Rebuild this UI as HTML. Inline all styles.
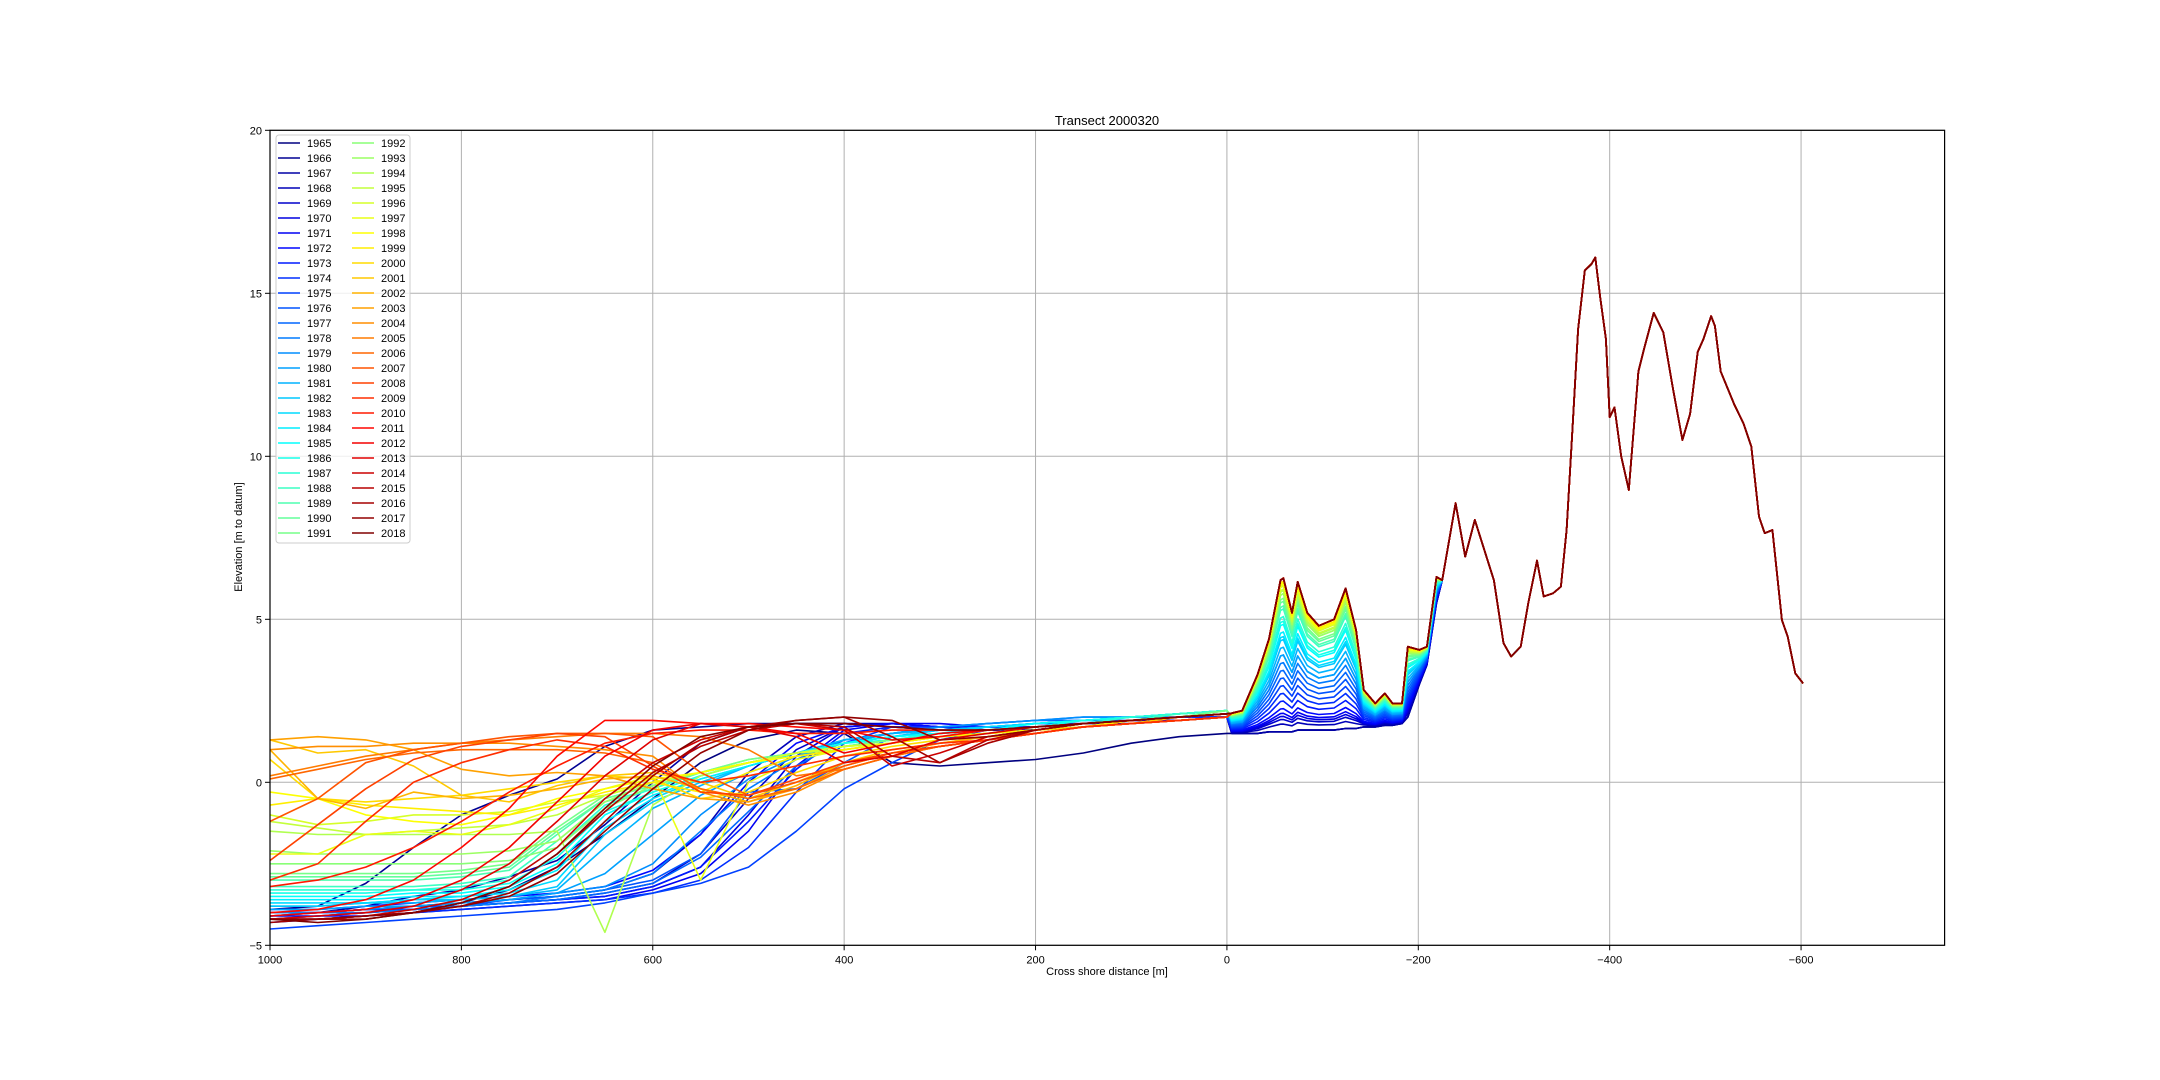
<!DOCTYPE html>
<html><head><meta charset="utf-8"><style>
html,body{margin:0;padding:0;background:#fff}
svg{display:block;font-family:"Liberation Sans","DejaVu Sans",sans-serif}
</style></head><body>
<svg id="chart" width="2160" height="1080" viewBox="0 0 2160 1080">
<defs><clipPath id="plotclip"><rect x="270" y="130" width="1675" height="815"/></clipPath></defs>
<rect x="0" y="0" width="2160" height="1080" fill="#fff"/>
<g id="grid"></g>
<g id="series" clip-path="url(#plotclip)"></g>
<rect x="270" y="130.3" width="1674.6" height="815" fill="none" stroke="#000" stroke-width="1.2"/>
<g id="ticks"></g>
<text x="1107" y="125" text-anchor="middle" font-size="13">Transect 2000320</text>
<text x="1107" y="975" text-anchor="middle" font-size="11">Cross shore distance [m]</text>
<text x="0" y="0" transform="translate(242,537) rotate(-90)" text-anchor="middle" font-size="11">Elevation [m to datum]</text>
<g id="legend"></g>
</svg>
<script>
const years = [];
for (let y = 1965; y <= 2018; y++) years.push(y);
const xTicks = [1000, 800, 600, 400, 200, 0, -200, -400, -600];
const yTicks = [-5, 0, 5, 10, 15, 20];
const seaX = [1000,950,900,850,800,750,700,650,600,550,500,450,400,350,300,250,200,150,100,50,0];
const seaY = [
[-4.2,-4.2,-4.1,-4.0,-3.7,-3.3,-2.6,-1.6,-0.5,0.6,1.3,1.6,1.5,0.6,0.5,0.6,0.7,0.9,1.2,1.4,1.5],
[-3.9,-3.8,-3.1,-2.0,-1.0,-0.4,0.1,1.1,1.6,1.7,1.8,1.8,1.8,1.7,1.6,1.6,1.6,1.7,1.8,1.9,2.0],
[-4.0,-4.0,-3.8,-3.5,-3.3,-2.9,-2.4,-1.3,0.0,1.2,1.7,1.8,1.8,1.7,1.6,1.6,1.6,1.7,1.8,1.9,2.0],
[-4.1,-4.0,-3.9,-3.8,-3.7,-3.6,-3.5,-3.3,-2.8,-1.6,0.3,1.4,1.8,1.8,1.7,1.6,1.6,1.7,1.8,1.9,2.0],
[-4.0,-4.0,-3.9,-3.9,-3.8,-3.7,-3.6,-3.4,-3.1,-2.2,-0.5,1.0,1.7,1.8,1.7,1.6,1.7,1.8,1.8,1.9,2.0],
[-4.1,-4.1,-4.0,-3.9,-3.8,-3.7,-3.6,-3.5,-3.2,-2.6,-1.0,0.8,1.7,1.8,1.7,1.7,1.7,1.8,1.9,1.9,2.0],
[-4.2,-4.1,-4.1,-4.0,-3.9,-3.8,-3.7,-3.6,-3.3,-2.8,-1.5,0.5,1.6,1.8,1.8,1.7,1.7,1.8,1.9,1.9,2.0],
[-3.9,-3.9,-3.8,-3.7,-3.6,-3.5,-3.4,-3.2,-2.7,-1.6,0.0,1.2,1.7,1.8,1.7,1.7,1.7,1.8,1.9,2.0,2.0],
[-4.0,-4.0,-3.9,-3.9,-3.8,-3.7,-3.6,-3.5,-3.2,-2.6,-1.2,0.4,1.5,1.7,1.7,1.7,1.7,1.8,1.9,2.0,2.0],
[-4.3,-4.2,-4.1,-4.0,-3.9,-3.8,-3.7,-3.6,-3.4,-3.0,-2.0,-0.3,1.2,1.7,1.7,1.7,1.8,1.8,1.9,2.0,2.0],
[-4.5,-4.4,-4.3,-4.2,-4.1,-4.0,-3.9,-3.7,-3.4,-3.1,-2.6,-1.5,-0.2,0.6,1.3,1.6,1.7,1.8,1.9,2.0,2.1],
[-4.0,-4.0,-3.9,-3.8,-3.8,-3.6,-3.5,-3.3,-3.0,-2.2,-0.3,-0.2,0.6,1.4,1.6,1.7,1.8,1.9,1.9,2.0,2.1],
[-4.2,-4.1,-4.0,-3.9,-3.8,-3.7,-3.6,-3.4,-3.1,-2.3,-0.9,0.5,1.3,1.5,1.7,1.8,1.9,1.9,2.0,2.0,2.1],
[-4.1,-4.0,-4.0,-3.9,-3.8,-3.7,-3.5,-3.3,-2.8,-1.5,-0.2,0.7,1.3,1.5,1.7,1.8,1.9,2.0,2.0,2.1,2.2],
[-4.0,-4.0,-3.9,-3.8,-3.7,-3.6,-3.4,-3.2,-2.5,-1.0,0.1,0.8,1.3,1.5,1.7,1.8,1.9,2.0,2.0,2.1,2.2],
[-3.9,-3.9,-3.8,-3.8,-3.7,-3.6,-3.4,-2.8,-1.6,-0.4,0.3,0.8,1.2,1.5,1.6,1.7,1.8,1.9,2.0,2.1,2.2],
[-3.8,-3.8,-3.7,-3.7,-3.6,-3.5,-3.3,-2.0,-0.8,-0.1,0.5,0.9,1.3,1.5,1.6,1.7,1.8,1.9,2.0,2.1,2.2],
[-3.8,-3.8,-3.7,-3.6,-3.6,-3.5,-3.2,-1.6,-0.6,0.0,0.5,0.9,1.2,1.4,1.6,1.7,1.8,1.9,2.0,2.1,2.2],
[-3.7,-3.7,-3.7,-3.6,-3.5,-3.4,-3.0,-1.4,-0.5,0.1,0.5,0.9,1.2,1.4,1.5,1.7,1.8,1.9,2.0,2.1,2.2],
[-3.6,-3.6,-3.6,-3.5,-3.5,-3.3,-2.7,-1.2,-0.4,0.1,0.5,0.9,1.2,1.4,1.5,1.6,1.8,1.9,2.0,2.1,2.2],
[-3.5,-3.5,-3.5,-3.4,-3.4,-3.2,-2.5,-1.0,-0.3,0.2,0.6,0.9,1.2,1.4,1.5,1.6,1.8,1.9,2.0,2.1,2.2],
[-3.4,-3.4,-3.4,-3.3,-3.3,-3.1,-2.3,-0.9,-0.3,0.2,0.6,0.9,1.2,1.3,1.5,1.6,1.7,1.9,2.0,2.1,2.2],
[-3.3,-3.3,-3.3,-3.3,-3.2,-3.0,-2.0,-0.7,-0.2,0.3,0.6,0.9,1.1,1.3,1.5,1.6,1.7,1.8,2.0,2.1,2.2],
[-3.2,-3.2,-3.2,-3.2,-3.1,-2.9,-1.8,-0.6,-0.2,0.3,0.6,0.9,1.1,1.3,1.4,1.6,1.7,1.8,1.9,2.1,2.2],
[-3.0,-3.0,-3.0,-3.0,-2.9,-2.7,-1.6,-0.5,-0.1,0.3,0.6,0.9,1.1,1.3,1.4,1.6,1.7,1.8,1.9,2.0,2.2],
[-2.9,-2.9,-2.9,-2.9,-2.8,-2.6,-1.5,-0.5,-0.1,0.3,0.7,0.9,1.1,1.3,1.4,1.5,1.7,1.8,1.9,2.0,2.2],
[-2.8,-2.8,-2.8,-2.8,-2.7,-2.5,-1.4,-0.4,0.0,0.3,0.7,0.9,1.1,1.3,1.4,1.5,1.7,1.8,1.9,2.0,2.2],
[-2.5,-2.5,-2.5,-2.5,-2.5,-2.4,-2.0,-0.8,-0.1,0.3,0.6,0.9,1.1,1.2,1.4,1.5,1.6,1.8,1.9,2.0,2.1],
[-2.1,-2.2,-2.2,-2.2,-2.2,-2.1,-1.8,-0.6,0.0,0.3,0.6,0.9,1.1,1.2,1.4,1.5,1.6,1.8,1.9,2.0,2.1],
[-1.5,-1.6,-1.6,-1.6,-1.6,-1.6,-1.5,-4.6,-0.7,0.2,0.6,0.9,1.0,1.2,1.4,1.5,1.6,1.8,1.9,2.0,2.1],
[-1.2,-1.4,-1.6,-1.5,-1.4,-1.3,-1.0,-0.4,0.0,0.3,0.6,0.9,1.0,1.2,1.4,1.5,1.6,1.8,1.9,2.0,2.1],
[-1.0,-1.3,-1.2,-1.0,-1.0,-0.9,-0.6,-0.4,0.0,0.3,0.6,0.9,1.1,1.2,1.4,1.5,1.6,1.7,1.9,2.0,2.1],
[-2.2,-2.2,-1.6,-1.5,-1.6,-1.3,-0.8,-0.2,0.2,-3.0,0.0,0.7,1.0,1.2,1.4,1.5,1.6,1.7,1.9,2.0,2.1],
[-0.3,-0.5,-1.0,-1.2,-1.3,-1.0,-0.5,-0.2,0.1,0.3,0.6,0.8,1.0,1.2,1.4,1.5,1.6,1.7,1.9,2.0,2.1],
[-0.7,-0.5,-0.7,-0.8,-0.9,-1.0,-0.7,-0.3,0.0,-0.3,0.3,0.8,1.0,1.2,1.4,1.5,1.6,1.7,1.9,2.0,2.1],
[0.7,-0.5,-0.6,-0.5,-0.4,-0.2,0.0,0.2,0.1,-0.5,-0.3,0.3,0.8,1.1,1.3,1.4,1.6,1.7,1.8,2.0,2.1],
[1.3,0.9,1.0,0.5,-0.4,-0.6,-0.1,0.2,0.3,0.0,-0.5,0.0,0.6,1.0,1.2,1.4,1.5,1.7,1.8,2.0,2.1],
[1.0,-0.5,-0.8,-0.3,-0.5,-0.4,-0.2,0.1,0.2,-0.2,-0.6,-0.1,0.6,0.9,1.2,1.4,1.5,1.7,1.8,1.9,2.0],
[1.3,1.4,1.3,1.0,0.4,0.2,0.3,0.2,-0.2,-0.5,-0.6,-0.2,0.5,0.9,1.1,1.3,1.5,1.7,1.8,1.9,2.0],
[1.0,1.1,1.1,1.2,1.2,1.2,1.1,1.0,0.8,-0.3,-0.7,-0.3,0.4,0.8,1.1,1.3,1.5,1.7,1.8,1.9,2.0],
[0.2,0.5,0.8,1.0,1.2,1.3,1.4,1.5,1.5,1.4,1.0,0.2,0.4,0.8,1.1,1.3,1.5,1.7,1.8,1.9,2.0],
[0.1,0.4,0.7,0.9,1.0,1.0,1.0,0.9,0.6,-0.2,-0.5,-0.2,0.4,0.8,1.1,1.3,1.5,1.7,1.8,1.9,2.0],
[-1.2,-0.5,0.6,1.0,1.2,1.4,1.5,1.5,1.4,0.3,-0.4,0.0,0.5,0.9,1.1,1.3,1.5,1.7,1.8,1.9,2.0],
[-2.4,-1.3,-0.2,0.7,1.1,1.3,1.5,1.4,0.5,-0.3,-0.4,0.1,0.6,0.9,1.1,1.3,1.5,1.7,1.8,1.9,2.0],
[-3.0,-2.5,-1.2,0.0,0.6,1.0,1.3,1.1,0.4,0.0,0.2,0.5,0.8,1.0,1.2,1.3,1.5,1.7,1.8,1.9,2.0],
[-3.2,-3.0,-2.6,-2.0,-1.2,-0.3,0.5,1.2,1.5,1.6,1.6,1.5,1.5,1.6,1.6,1.6,1.7,1.8,1.9,2.0,2.1],
[-4.0,-3.9,-3.6,-3.0,-2.0,-0.8,0.8,1.9,1.9,1.8,1.8,1.7,1.6,1.3,1.4,1.6,1.7,1.8,1.9,2.0,2.1],
[-4.1,-4.0,-3.9,-3.6,-3.0,-2.0,-0.6,0.8,1.6,1.8,1.7,1.5,0.9,1.2,1.5,1.6,1.7,1.8,1.9,2.0,2.1],
[-4.2,-4.1,-4.0,-3.8,-3.3,-2.5,-1.2,0.2,1.3,1.8,1.7,1.4,0.6,0.8,1.3,1.5,1.7,1.8,1.9,2.0,2.1],
[-4.2,-4.2,-4.1,-3.9,-3.6,-3.0,-2.0,-0.5,0.6,1.3,1.7,1.8,1.6,0.5,0.9,1.4,1.6,1.8,1.9,2.0,2.1],
[-4.2,-4.2,-4.1,-4.0,-3.7,-3.2,-2.2,-0.9,0.3,1.1,1.6,1.8,1.7,0.8,0.6,1.3,1.6,1.8,1.9,2.0,2.1],
[-4.3,-4.2,-4.2,-4.0,-3.8,-3.4,-2.6,-1.2,0.2,1.2,1.7,1.9,2.0,1.4,0.6,1.2,1.6,1.8,1.9,2.0,2.1],
[-4.2,-4.2,-4.1,-4.0,-3.8,-3.5,-2.8,-1.5,-0.2,0.9,1.6,1.9,2.0,1.9,1.3,1.4,1.6,1.8,1.9,2.0,2.1],
[-4.2,-4.3,-4.2,-4.0,-3.7,-3.2,-2.2,-0.8,0.5,1.4,1.7,1.8,1.8,1.7,1.6,1.6,1.7,1.8,1.9,2.0,2.1]
];
const duneX = [-5,-16,-32,-44,-56,-59,-68,-74,-84,-96,-112,-124,-135,-143,-155,-165,-173,-183,-189,-201,-209,-219,-225,-239,-249,-259,-269,-279,-289,-297,-307,-315,-324,-331,-341,-349,-355,-361,-367,-374,-381,-385,-390,-396,-400,-405,-412,-420,-430,-436,-446,-456,-466,-476,-484,-492,-498,-506,-510,-516,-530,-540,-548,-556,-562,-570,-580,-586,-594,-602];
const duneLate = [2.12,2.2,3.3,4.4,6.2,6.26,5.2,6.15,5.2,4.8,5.0,5.95,4.67,2.83,2.42,2.73,2.42,2.42,4.16,4.06,4.16,6.3,6.2,8.56,6.92,8.05,7.13,6.2,4.27,3.86,4.16,5.5,6.8,5.7,5.8,6.0,7.74,10.8,13.9,15.7,15.9,16.1,14.9,13.6,11.2,11.5,10.0,8.97,12.6,13.3,14.4,13.8,12.1,10.5,11.3,13.2,13.6,14.3,14.0,12.6,11.6,11.0,10.3,8.15,7.64,7.74,4.98,4.47,3.34,3.04];
const duneEarly = [1.5,1.5,1.5,1.55,1.55,1.55,1.55,1.6,1.6,1.6,1.6,1.65,1.65,1.7,1.7,1.75,1.75,1.8,2.0,3.0,3.6,5.5];
const foreduneGrowth = [0,0,0,0.05,0.08,0.1,0.12,0.15,0.2,0.25,0.3,0.35,0.4,0.45,0.5,0.5,0.55,0.6,0.62,0.65,0.7,0.72,0.75,0.8,0.82,0.85,0.87,0.9,0.9,0.92,0.93,0.95,0.96,0.97,0.98,1,1,1,1,1,1,1,1,1,1,1,1,1,1,1,1,1,1,1];

const X0 = 270, X1 = 1944.6, Y0 = 945.3, Y1 = 130.3;
function sx(x){ return X0 + (1000 - x) / 1750 * (X1 - X0); }
function sy(y){ return Y0 - (y + 5) / 25 * (Y0 - Y1); }
function jet(t){
  const c = v => Math.round(255 * Math.max(0, Math.min(1, v)));
  return `rgb(${c(1.5 - Math.abs(4*t - 3))},${c(1.5 - Math.abs(4*t - 2))},${c(1.5 - Math.abs(4*t - 1))})`;
}
const NS = 'http://www.w3.org/2000/svg';
const grid = document.getElementById('grid');
const ticks = document.getElementById('ticks');
xTicks.forEach(v => {
  const gl = document.createElementNS(NS, 'line');
  gl.setAttribute('x1', sx(v)); gl.setAttribute('x2', sx(v));
  gl.setAttribute('y1', Y1); gl.setAttribute('y2', Y0);
  gl.setAttribute('stroke', '#b0b0b0'); gl.setAttribute('stroke-width', '1');
  
  
  grid.appendChild(gl);
  const tk = document.createElementNS(NS, 'line');
  tk.setAttribute('x1', sx(v)); tk.setAttribute('x2', sx(v));
  tk.setAttribute('y1', Y0); tk.setAttribute('y2', Y0 + 5);
  tk.setAttribute('stroke', '#000');
  
  
  ticks.appendChild(tk);
  const tl = document.createElementNS(NS, 'text');
  tl.setAttribute('x', sx(v)); tl.setAttribute('y', Y0 + 18);
  tl.setAttribute('text-anchor', 'middle'); tl.setAttribute('font-size', '11');
  tl.textContent = v < 0 ? '\u2212' + (-v) : String(v);
  
  
  ticks.appendChild(tl);
});
yTicks.forEach(v => {
  const gl = document.createElementNS(NS, 'line');
  gl.setAttribute('x1', X0); gl.setAttribute('x2', X1);
  gl.setAttribute('y1', sy(v)); gl.setAttribute('y2', sy(v));
  gl.setAttribute('stroke', '#b0b0b0'); gl.setAttribute('stroke-width', '1');
  
  
  grid.appendChild(gl);
  const tk = document.createElementNS(NS, 'line');
  tk.setAttribute('x1', X0 - 5); tk.setAttribute('x2', X0);
  tk.setAttribute('y1', sy(v)); tk.setAttribute('y2', sy(v));
  tk.setAttribute('stroke', '#000');
  
  
  ticks.appendChild(tk);
  const tl = document.createElementNS(NS, 'text');
  tl.setAttribute('x', X0 - 8); tl.setAttribute('y', sy(v) + 4);
  tl.setAttribute('text-anchor', 'end'); tl.setAttribute('font-size', '11');
  tl.textContent = v < 0 ? '\u2212' + (-v) : String(v);
  
  
  ticks.appendChild(tl);
});
const series = document.getElementById('series');
years.forEach((yr, i) => {
  const col = jet(i / (years.length - 1));
  const pts = [];
  seaX.forEach((x, j) => pts.push([x, seaY[i][j]]));
  const f = foreduneGrowth[i];
  duneX.forEach((x, j) => {
    let v = duneLate[j];
    if (j < duneEarly.length) v = duneEarly[j] + f * (duneLate[j] - duneEarly[j]);
    pts.push([x, v]);
  });
  const p = document.createElementNS(NS, 'polyline');
  p.setAttribute('points', pts.map(q => sx(q[0]).toFixed(1) + ',' + sy(q[1]).toFixed(1)).join(' '));
  p.setAttribute('fill', 'none'); p.setAttribute('stroke', col);
  p.setAttribute('stroke-width', '1.6'); p.setAttribute('stroke-linejoin', 'round');
  
  
  series.appendChild(p);
});
const legend = document.getElementById('legend');
const box = document.createElementNS(NS, 'rect');
box.setAttribute('x', 276); box.setAttribute('y', 135); box.setAttribute('width', 134); box.setAttribute('height', 408);
box.setAttribute('rx', 3); box.setAttribute('fill', '#fff'); box.setAttribute('fill-opacity', '0.8');
box.setAttribute('stroke', '#ccc');


legend.appendChild(box);
years.forEach((yr, i) => {
  const colIdx = i < 27 ? 0 : 1;
  const row = i % 27;
  const y = 143 + row * 15;
  const hx = colIdx === 0 ? 278 : 352;
  const g = document.createElementNS(NS, 'g');
  
  
  const l = document.createElementNS(NS, 'line');
  l.setAttribute('x1', hx); l.setAttribute('x2', hx + 22);
  l.setAttribute('y1', y); l.setAttribute('y2', y);
  l.setAttribute('stroke', jet(i / (years.length - 1))); l.setAttribute('stroke-width', '1.6');
  
  
  g.appendChild(l);
  const t = document.createElementNS(NS, 'text');
  t.setAttribute('x', hx + 29); t.setAttribute('y', y + 4);
  t.setAttribute('font-size', '11');
  t.textContent = String(yr);
  
  
  g.appendChild(t);
  legend.appendChild(g);
});
</script>
</body></html>
